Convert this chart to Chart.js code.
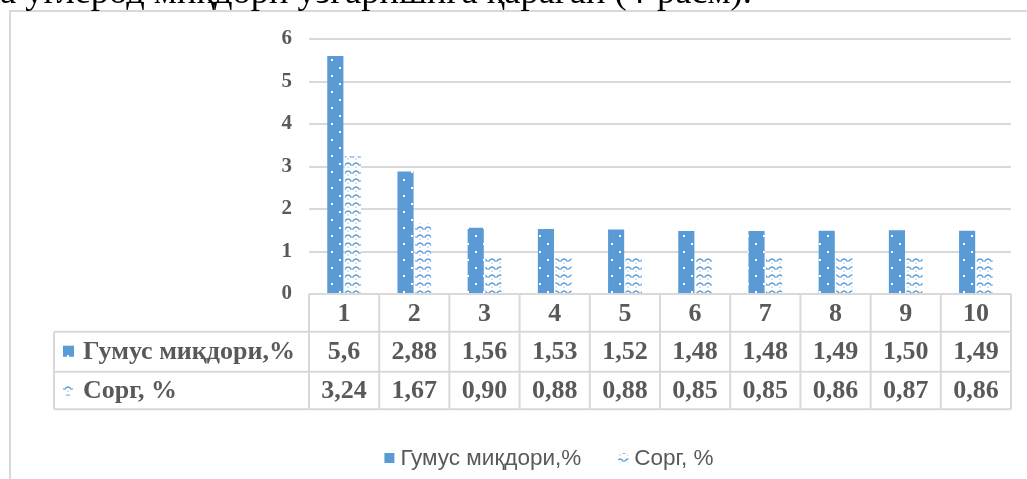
<!DOCTYPE html>
<html>
<head>
<meta charset="utf-8">
<script src="https://cdn.jsdelivr.net/npm/chart.js@4.4.1/dist/chart.umd.min.js"></script>
<style>
  html, body { margin: 0; padding: 0; background: #fff; overflow: hidden; }
  #wrap { position: relative; width: 1027px; height: 479px; }
</style>
</head>
<body>
<div id="wrap"><canvas id="c" width="1027" height="479"></canvas></div>
<script>
// Sample numbers (profile layers 1–10)
const categories = ['1', '2', '3', '4', '5', '6', '7', '8', '9', '10'];
const seriesNames = ['Гумус миқдори,%', 'Сорг, %'];
const humus = [5.6, 2.88, 1.56, 1.53, 1.52, 1.48, 1.48, 1.49, 1.50, 1.49];
const corg = [3.24, 1.67, 0.90, 0.88, 0.88, 0.85, 0.85, 0.86, 0.87, 0.86];
// Values as printed in the data table
const humusText = ['5,6', '2,88', '1,56', '1,53', '1,52', '1,48', '1,48', '1,49', '1,50', '1,49'];
const corgText = ['3,24', '1,67', '0,90', '0,88', '0,88', '0,85', '0,85', '0,86', '0,87', '0,86'];
const yTicks = [0, 1, 2, 3, 4, 5, 6];
const captionText = 'а углерод миқдори ўзгаришига қараган (4-расм).';

const BLUE = '#5b9bd5';
const GRID = '#d9d9d9';
const TEXT = '#595959';

const canvas = document.getElementById('c');
const ctx = canvas.getContext('2d');

// Solid blue with small white dots
function makeDotFill() {
  const t = document.createElement('canvas');
  t.width = 16; t.height = 16;
  const g = t.getContext('2d');
  g.fillStyle = BLUE; g.fillRect(0, 0, 16, 16);
  g.fillStyle = '#ffffff';
  g.fillRect(3, 3, 2, 2);
  g.fillRect(11, 11, 2, 2);
  return ctx.createPattern(t, 'repeat');
}
// Blue wavy strokes on white
function makeWaveFill() {
  const t = document.createElement('canvas');
  t.width = 8; t.height = 8;
  const g = t.getContext('2d');
  g.fillStyle = '#ffffff'; g.fillRect(0, 0, 8, 8);
  g.strokeStyle = BLUE; g.lineWidth = 1.4;
  g.beginPath();
  g.moveTo(0.5, 5.5);
  g.quadraticCurveTo(4, 0.5, 7.5, 5.5);
  g.stroke();
  g.fillStyle = BLUE;
  g.fillRect(3.5, 6.5, 1, 1);
  return ctx.createPattern(t, 'repeat');
}
const dotFill = makeDotFill();
const waveFill = makeWaveFill();
const fills = [dotFill, waveFill];

// Frame, caption, data table and legend drawn around the plot
const decorPlugin = {
  id: 'decor',
  afterDraw(chart) {
    const c = chart.ctx;
    const xs = chart.scales.x;
    const area = chart.chartArea;
    const colW = (area.right - area.left) / categories.length;
    c.save();

    // chart frame
    c.strokeStyle = GRID; c.lineWidth = 2;
    c.strokeRect(10, 11, 1200, 800);

    // caption line above the frame (partly outside the page)
    c.fillStyle = '#000';
    c.textBaseline = 'alphabetic';
    c.textAlign = 'left';
    let fs = 27;
    c.font = fs + 'px "Liberation Serif"';
    fs = fs * 752 / c.measureText(captionText).width;
    c.font = fs.toFixed(2) + 'px "Liberation Serif"';
    c.fillText(captionText, 0, 3);

    // data table
    const top = area.bottom;
    const r1 = top + 37.7, r2 = top + 77.7, r3 = top + 115.3;
    const leftX = 54;
    c.strokeStyle = GRID; c.lineWidth = 2;
    c.beginPath();
    c.moveTo(area.left, top); c.lineTo(area.right, top);
    [r1, r2, r3].forEach(y => { c.moveTo(leftX, y); c.lineTo(area.right, y); });
    c.moveTo(leftX, r1); c.lineTo(leftX, r3);
    for (let i = 0; i <= categories.length; i++) {
      const x = area.left + i * colW;
      c.moveTo(x, top); c.lineTo(x, r3);
    }
    c.stroke();

    c.fillStyle = TEXT;
    c.font = 'bold 26px "Liberation Serif"';
    c.textAlign = 'center';
    c.textBaseline = 'middle';
    categories.forEach((lab, i) => {
      const x = xs.getPixelForValue(i);
      c.fillText(lab, x, (top + r1) / 2 + 1);
      c.fillText(humusText[i], x, (r1 + r2) / 2 + 1);
      c.fillText(corgText[i], x, (r2 + r3) / 2 + 1);
    });
    c.textAlign = 'left';
    c.fillText(seriesNames[0], 83, (r1 + r2) / 2 + 1);
    c.fillText(seriesNames[1], 83, (r2 + r3) / 2 + 1);
    c.fillStyle = dotFill; c.fillRect(63, (r1 + r2) / 2 - 6, 11, 11);
    c.fillStyle = waveFill; c.fillRect(63, (r2 + r3) / 2 - 5, 10, 10);

    // legend
    c.font = '20px "Liberation Sans"';
    let lfs = 20 * 181 / c.measureText(seriesNames[0]).width;
    c.font = lfs.toFixed(2) + 'px "Liberation Sans"';
    const w0 = c.measureText(seriesNames[0]).width;
    const w1 = c.measureText(seriesNames[1]).width;
    const box = 10, gapIn = 6, gapOut = 37;
    const total = box + gapIn + w0 + gapOut + box + gapIn + w1;
    let lx = 549 - total / 2;
    const ly = 458;
    c.textBaseline = 'middle';
    seriesNames.forEach((name, i) => {
      c.fillStyle = fills[i];
      c.fillRect(lx, ly - 5, box, box);
      lx += box + gapIn;
      c.fillStyle = TEXT;
      c.fillText(name, lx, ly + 1);
      lx += (i === 0 ? w0 : w1) + gapOut;
    });

    c.restore();
  }
};

new Chart(ctx, {
  type: 'bar',
  data: {
    labels: categories,
    datasets: [
      { label: seriesNames[0], data: humus, backgroundColor: dotFill, borderWidth: 0,
        categoryPercentage: 0.5, barPercentage: 0.92 },
      { label: seriesNames[1], data: corg, backgroundColor: waveFill, borderWidth: 0,
        categoryPercentage: 0.5, barPercentage: 0.92 }
    ]
  },
  options: {
    responsive: false,
    animation: false,
    layout: { padding: { left: 0, right: 16, top: 39, bottom: 0 } },
    plugins: {
      legend: { display: false },
      tooltip: { enabled: false }
    },
    scales: {
      x: {
        grid: { display: false },
        border: { display: false },
        ticks: { display: false },
        afterFit(s) { s.height = 185; }
      },
      y: {
        min: 0, max: 6,
        afterBuildTicks(s) { s.ticks = yTicks.map(v => ({ value: v })); },
        ticks: {
          padding: 17,
          color: TEXT,
          font: { family: 'Liberation Serif', size: 21, weight: 'bold' }
        },
        grid: { color: GRID, lineWidth: 2, drawTicks: false },
        border: { display: false },
        afterFit(s) { s.width = 309; }
      }
    }
  },
  plugins: [decorPlugin]
});
</script>
</body>
</html>
